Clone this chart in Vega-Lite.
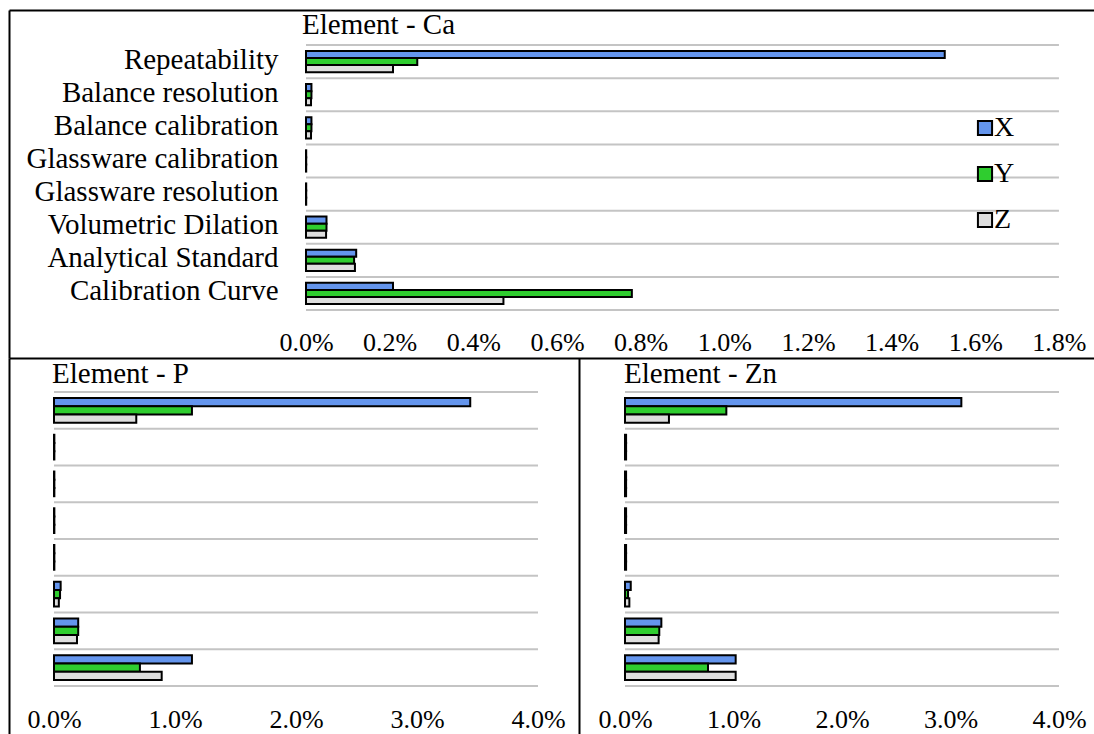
{
  "$schema": "https://vega.github.io/schema/vega-lite/v6.json",
  "background": "white",
  "padding": {"left": 9, "top": 10, "right": 0, "bottom": 0},
  "datasets": {
    "u": [
      {"element": "Ca", "component": "Repeatability", "series": "X", "value": 1.527},
      {"element": "Ca", "component": "Repeatability", "series": "Y", "value": 0.266},
      {"element": "Ca", "component": "Repeatability", "series": "Z", "value": 0.208},
      {"element": "Ca", "component": "Balance resolution", "series": "X", "value": 0.013},
      {"element": "Ca", "component": "Balance resolution", "series": "Y", "value": 0.013},
      {"element": "Ca", "component": "Balance resolution", "series": "Z", "value": 0.012},
      {"element": "Ca", "component": "Balance calibration", "series": "X", "value": 0.013},
      {"element": "Ca", "component": "Balance calibration", "series": "Y", "value": 0.013},
      {"element": "Ca", "component": "Balance calibration", "series": "Z", "value": 0.012},
      {"element": "Ca", "component": "Glassware calibration", "series": "X", "value": 0.0005},
      {"element": "Ca", "component": "Glassware calibration", "series": "Y", "value": 0.0005},
      {"element": "Ca", "component": "Glassware calibration", "series": "Z", "value": 0.0005},
      {"element": "Ca", "component": "Glassware resolution", "series": "X", "value": 0.0005},
      {"element": "Ca", "component": "Glassware resolution", "series": "Y", "value": 0.0005},
      {"element": "Ca", "component": "Glassware resolution", "series": "Z", "value": 0.0005},
      {"element": "Ca", "component": "Volumetric Dilation", "series": "X", "value": 0.049},
      {"element": "Ca", "component": "Volumetric Dilation", "series": "Y", "value": 0.049},
      {"element": "Ca", "component": "Volumetric Dilation", "series": "Z", "value": 0.048},
      {"element": "Ca", "component": "Analytical Standard", "series": "X", "value": 0.12},
      {"element": "Ca", "component": "Analytical Standard", "series": "Y", "value": 0.115},
      {"element": "Ca", "component": "Analytical Standard", "series": "Z", "value": 0.117},
      {"element": "Ca", "component": "Calibration Curve", "series": "X", "value": 0.208},
      {"element": "Ca", "component": "Calibration Curve", "series": "Y", "value": 0.779},
      {"element": "Ca", "component": "Calibration Curve", "series": "Z", "value": 0.472},

      {"element": "P", "component": "Repeatability", "series": "X", "value": 3.44},
      {"element": "P", "component": "Repeatability", "series": "Y", "value": 1.14},
      {"element": "P", "component": "Repeatability", "series": "Z", "value": 0.68},
      {"element": "P", "component": "Balance resolution", "series": "X", "value": 0.003},
      {"element": "P", "component": "Balance resolution", "series": "Y", "value": 0.003},
      {"element": "P", "component": "Balance resolution", "series": "Z", "value": 0.003},
      {"element": "P", "component": "Balance calibration", "series": "X", "value": 0.003},
      {"element": "P", "component": "Balance calibration", "series": "Y", "value": 0.003},
      {"element": "P", "component": "Balance calibration", "series": "Z", "value": 0.003},
      {"element": "P", "component": "Glassware calibration", "series": "X", "value": 0.003},
      {"element": "P", "component": "Glassware calibration", "series": "Y", "value": 0.003},
      {"element": "P", "component": "Glassware calibration", "series": "Z", "value": 0.003},
      {"element": "P", "component": "Glassware resolution", "series": "X", "value": 0.003},
      {"element": "P", "component": "Glassware resolution", "series": "Y", "value": 0.003},
      {"element": "P", "component": "Glassware resolution", "series": "Z", "value": 0.003},
      {"element": "P", "component": "Volumetric Dilation", "series": "X", "value": 0.055},
      {"element": "P", "component": "Volumetric Dilation", "series": "Y", "value": 0.05},
      {"element": "P", "component": "Volumetric Dilation", "series": "Z", "value": 0.04},
      {"element": "P", "component": "Analytical Standard", "series": "X", "value": 0.2},
      {"element": "P", "component": "Analytical Standard", "series": "Y", "value": 0.2},
      {"element": "P", "component": "Analytical Standard", "series": "Z", "value": 0.19},
      {"element": "P", "component": "Calibration Curve", "series": "X", "value": 1.14},
      {"element": "P", "component": "Calibration Curve", "series": "Y", "value": 0.71},
      {"element": "P", "component": "Calibration Curve", "series": "Z", "value": 0.89},

      {"element": "Zn", "component": "Repeatability", "series": "X", "value": 3.1},
      {"element": "Zn", "component": "Repeatability", "series": "Y", "value": 0.934},
      {"element": "Zn", "component": "Repeatability", "series": "Z", "value": 0.405},
      {"element": "Zn", "component": "Balance resolution", "series": "X", "value": 0.01},
      {"element": "Zn", "component": "Balance resolution", "series": "Y", "value": 0.01},
      {"element": "Zn", "component": "Balance resolution", "series": "Z", "value": 0.01},
      {"element": "Zn", "component": "Balance calibration", "series": "X", "value": 0.01},
      {"element": "Zn", "component": "Balance calibration", "series": "Y", "value": 0.01},
      {"element": "Zn", "component": "Balance calibration", "series": "Z", "value": 0.01},
      {"element": "Zn", "component": "Glassware calibration", "series": "X", "value": 0.01},
      {"element": "Zn", "component": "Glassware calibration", "series": "Y", "value": 0.01},
      {"element": "Zn", "component": "Glassware calibration", "series": "Z", "value": 0.01},
      {"element": "Zn", "component": "Glassware resolution", "series": "X", "value": 0.01},
      {"element": "Zn", "component": "Glassware resolution", "series": "Y", "value": 0.01},
      {"element": "Zn", "component": "Glassware resolution", "series": "Z", "value": 0.01},
      {"element": "Zn", "component": "Volumetric Dilation", "series": "X", "value": 0.053},
      {"element": "Zn", "component": "Volumetric Dilation", "series": "Y", "value": 0.028},
      {"element": "Zn", "component": "Volumetric Dilation", "series": "Z", "value": 0.04},
      {"element": "Zn", "component": "Analytical Standard", "series": "X", "value": 0.335},
      {"element": "Zn", "component": "Analytical Standard", "series": "Y", "value": 0.316},
      {"element": "Zn", "component": "Analytical Standard", "series": "Z", "value": 0.31},
      {"element": "Zn", "component": "Calibration Curve", "series": "X", "value": 1.02},
      {"element": "Zn", "component": "Calibration Curve", "series": "Y", "value": 0.765},
      {"element": "Zn", "component": "Calibration Curve", "series": "Z", "value": 1.02}
    ]
  },
  "config": {
    "view": {"stroke": null},
    "font": "Times New Roman, Liberation Serif, serif",
    "axis": {
      "labelFont": "Times New Roman, Liberation Serif, serif",
      "labelColor": "#000",
      "grid": false,
      "ticks": false,
      "tickSize": 0,
      "domainColor": "#000",
      "domainWidth": 2,
      "labelOverlap": false,
      "labelFlush": false
    },
    "title": {
      "font": "Times New Roman, Liberation Serif, serif",
      "fontWeight": "normal",
      "fontSize": 29,
      "color": "#000",
      "anchor": "start",
      "frame": "group",
      "baseline": "alphabetic"
    }
  },
  "spacing": 0,
  "bounds": "flush",
  "resolve": {
    "scale": {"color": "independent", "yOffset": "independent"},
    "legend": {"color": "independent"}
  },
  "vconcat": [
    {
      "width": 1085,
      "height": 348,
      "title": {"text": "Element - Ca", "dx": 293, "offset": -30},
      "data": {"name": "u"},
      "transform": [{"filter": "datum.element === 'Ca'"}],
      "resolve": {"axis": {"x": "independent", "y": "independent"}},
      "layer": [
        {
          "transform": [{"filter": "datum.series === 'X'"}],
          "mark": {"type": "rule", "color": "#c4c4c4", "strokeWidth": 2},
          "encoding": {
            "y": {
              "field": "component", "type": "nominal", "bandPosition": 0,
              "scale": {"domain": ["Repeatability", "Balance resolution", "Balance calibration", "Glassware calibration", "Glassware resolution", "Volumetric Dilation", "Analytical Standard", "Calibration Curve", " "], "paddingInner": 0, "paddingOuter": 0.7528, "align": 0.7018},
              "axis": null
            },
            "x": {
              "datum": 0, "type": "quantitative",
              "scale": {"domain": [-0.71, 1.8838], "nice": false, "zero": false},
              "axis": {"orient": "top", "labels": false, "domain": true, "title": null}
            },
            "x2": {"datum": 1.8}
          }
        },
        {
          "transform": [{"filter": "datum.series === 'X' && datum.component === 'Calibration Curve'"}],
          "mark": {"type": "rule", "color": "#c4c4c4", "strokeWidth": 2},
          "encoding": {
            "y": {"field": "component", "type": "nominal", "bandPosition": 1, "axis": null},
            "x": {"datum": 0, "type": "quantitative", "axis": null},
            "x2": {"datum": 1.8}
          }
        },
        {
          "mark": {"type": "bar", "stroke": "#000", "strokeWidth": 2},
          "encoding": {
            "y": {
              "field": "component", "type": "nominal",
              "axis": {"orient": "left", "title": null, "labelPadding": -269, "labelOffset": -2, "labelFontSize": 29, "labelLimit": 600, "domain": true}
            },
            "yOffset": {
              "field": "series", "type": "nominal",
              "scale": {"domain": ["X", "Y", "Z"], "paddingInner": 0, "paddingOuter": 0.833}
            },
            "x": {
              "field": "value", "type": "quantitative",
              "axis": {
                "orient": "bottom",
                "title": null,
                "values": [0, 0.2, 0.4, 0.6, 0.8, 1.0, 1.2, 1.4, 1.6, 1.8],
                "labelExpr": "format(datum.value, '.1f') + '%'",
                "labelPadding": -8,
                "labelBaseline": "alphabetic",
                "labelFontSize": 26,
                "domain": true
              }
            },
            "x2": {"datum": 0},
            "color": {
              "field": "series", "type": "nominal",
              "scale": {"domain": ["X", "Y", "Z"], "range": ["#6495ed", "#2fcd2f", "#dedede"]},
              "legend": {
                "orient": "none",
                "legendX": 962,
                "legendY": 104,
                "title": null,
                "padding": 0,
                "symbolType": "square",
                "symbolSize": 200,
                "symbolStrokeColor": "#000",
                "symbolStrokeWidth": 2,
                "labelFont": "Times New Roman, Liberation Serif, serif",
                "labelFontSize": 28,
                "labelColor": "#000",
                "labelOffset": -5,
                "rowPadding": 18
              }
            }
          }
        }
      ]
    },
    {
      "hconcat": [
        {
          "width": 570,
          "height": 376,
          "title": {"text": "Element - P", "dx": 43, "offset": -31},
          "data": {"name": "u"},
          "transform": [{"filter": "datum.element === 'P'"}],
          "resolve": {"axis": {"x": "independent", "y": "independent"}},
          "layer": [
            {
              "transform": [{"filter": "datum.series === 'X'"}],
              "mark": {"type": "rule", "color": "#c4c4c4", "strokeWidth": 2},
              "encoding": {
                "y": {
                  "field": "component", "type": "nominal", "bandPosition": 0,
                  "scale": {"domain": ["Repeatability", "Balance resolution", "Balance calibration", "Glassware calibration", "Glassware resolution", "Volumetric Dilation", "Analytical Standard", "Calibration Curve", " "], "paddingInner": 0, "paddingOuter": 0.6156, "align": 0.7514},
                  "axis": null
                },
                "x": {
                  "datum": 0, "type": "quantitative",
                  "scale": {"domain": [-0.3719, 4.3388], "nice": false, "zero": false},
                  "axis": null
                },
                "x2": {"datum": 4}
              }
            },
            {
              "transform": [{"filter": "datum.series === 'X' && datum.component === 'Calibration Curve'"}],
              "mark": {"type": "rule", "color": "#c4c4c4", "strokeWidth": 2},
              "encoding": {
                "y": {"field": "component", "type": "nominal", "bandPosition": 1, "axis": null},
                "x": {"datum": 0, "type": "quantitative", "axis": null},
                "x2": {"datum": 4}
              }
            },
            {
              "mark": {"type": "bar", "stroke": "#000", "strokeWidth": 2},
              "encoding": {
                "y": {
                  "field": "component", "type": "nominal",
                  "axis": {"orient": "left", "title": null, "labels": false, "domain": true}
                },
                "yOffset": {
                  "field": "series", "type": "nominal",
                  "scale": {"domain": ["X", "Y", "Z"], "paddingInner": 0, "paddingOuter": 0.732}
                },
                "x": {
                  "field": "value", "type": "quantitative",
                  "axis": {
                    "orient": "bottom",
                    "title": null,
                    "values": [0, 1, 2, 3, 4],
                    "labelExpr": "format(datum.value, '.1f') + '%'",
                    "labelPadding": -7,
                    "labelBaseline": "alphabetic",
                    "labelFontSize": 26,
                    "domain": false
                  }
                },
                "x2": {"datum": 0},
                "color": {
                  "field": "series", "type": "nominal",
                  "scale": {"domain": ["X", "Y", "Z"], "range": ["#6495ed", "#2fcd2f", "#dedede"]},
                  "legend": null
                }
              }
            }
          ]
        },
        {
          "width": 515,
          "height": 376,
          "title": {"text": "Element - Zn", "dx": 45, "offset": -31},
          "data": {"name": "u"},
          "transform": [{"filter": "datum.element === 'Zn'"}],
          "resolve": {"axis": {"x": "independent", "y": "independent"}},
          "layer": [
            {
              "transform": [{"filter": "datum.series === 'X'"}],
              "mark": {"type": "rule", "color": "#c4c4c4", "strokeWidth": 2},
              "encoding": {
                "y": {
                  "field": "component", "type": "nominal", "bandPosition": 0,
                  "scale": {"domain": ["Repeatability", "Balance resolution", "Balance calibration", "Glassware calibration", "Glassware resolution", "Volumetric Dilation", "Analytical Standard", "Calibration Curve", " "], "paddingInner": 0, "paddingOuter": 0.6156, "align": 0.7514},
                  "axis": null
                },
                "x": {
                  "datum": 0, "type": "quantitative",
                  "scale": {"domain": [-0.424, 4.3226], "nice": false, "zero": false},
                  "axis": null
                },
                "x2": {"datum": 4}
              }
            },
            {
              "transform": [{"filter": "datum.series === 'X' && datum.component === 'Calibration Curve'"}],
              "mark": {"type": "rule", "color": "#c4c4c4", "strokeWidth": 2},
              "encoding": {
                "y": {"field": "component", "type": "nominal", "bandPosition": 1, "axis": null},
                "x": {"datum": 0, "type": "quantitative", "axis": null},
                "x2": {"datum": 4}
              }
            },
            {
              "mark": {"type": "bar", "stroke": "#000", "strokeWidth": 2},
              "encoding": {
                "y": {
                  "field": "component", "type": "nominal",
                  "axis": {"orient": "left", "title": null, "labels": false, "domain": true}
                },
                "yOffset": {
                  "field": "series", "type": "nominal",
                  "scale": {"domain": ["X", "Y", "Z"], "paddingInner": 0, "paddingOuter": 0.732}
                },
                "x": {
                  "field": "value", "type": "quantitative",
                  "axis": {
                    "orient": "bottom",
                    "title": null,
                    "values": [0, 1, 2, 3, 4],
                    "labelExpr": "format(datum.value, '.1f') + '%'",
                    "labelPadding": -7,
                    "labelBaseline": "alphabetic",
                    "labelFontSize": 26,
                    "domain": false
                  }
                },
                "x2": {"datum": 0},
                "color": {
                  "field": "series", "type": "nominal",
                  "scale": {"domain": ["X", "Y", "Z"], "range": ["#6495ed", "#2fcd2f", "#dedede"]},
                  "legend": null
                }
              }
            }
          ]
        }
      ],
      "spacing": 0,
      "bounds": "flush",
      "resolve": {"scale": {"yOffset": "independent"}}
    }
  ]
}
